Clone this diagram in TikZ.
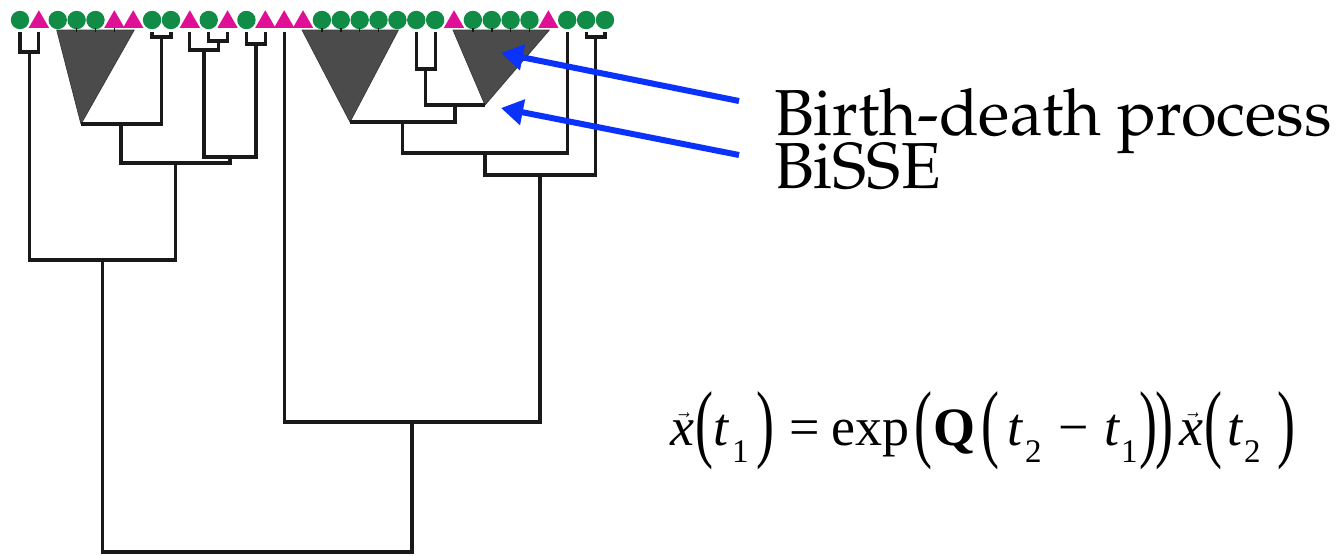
\documentclass[tikz,border=0pt]{standalone}
\usepackage[T1]{fontenc}
\usepackage{fontspec}
\usepackage{graphicx}
\usetikzlibrary{arrows.meta,shapes.geometric,calc}
\newfontfamily\eqfont{Liberation Serif}
\newcommand\palfont{\fontencoding{T1}\fontfamily{ppl}\selectfont}
\newcommand\EqP[1]{\raisebox{-6.5pt}{\scalebox{1}[1.6]{#1}}}
\newcommand\EqSub[1]{\raisebox{-17pt}{\fontsize{33}{33}\selectfont #1}}
\newcommand\EqVx{\ensuremath{\vec{\mbox{\itshape x}}}}
\definecolor{tipgreen}{RGB}{16,140,70}
\definecolor{tipmag}{RGB}{224,16,150}
\definecolor{treeline}{RGB}{25,25,25}
\definecolor{cladegray}{RGB}{75,75,75}
\definecolor{arrowblue}{RGB}{10,50,250}
\tikzset{
  tipc/.style={circle, fill=tipgreen, minimum size=18.4pt, inner sep=0pt},
  tipt/.style={regular polygon, regular polygon sides=3, fill=tipmag, minimum size=23.5pt, inner sep=0pt},
  branch/.style={draw=treeline, line width=3.2pt, line join=miter},
  tick/.style={draw=treeline, line width=1.6pt},
  clade/.style={fill=cladegray, draw=cladegray!80!black, line width=0.8pt, line join=round},
  bluearrow/.style={draw=arrowblue, line width=6pt, -{Triangle[length=22pt,width=25pt]}},
  lbl/.style={anchor=base west, inner sep=0pt, font=\palfont\fontsize{65}{65}\selectfont},
  eqn/.style={anchor=base west, inner sep=0pt, font=\eqfont\fontsize{54}{54}\selectfont}
}
\begin{document}
\begin{tikzpicture}[x=1pt,y=-1pt]
\fill[white] (0,0) rectangle (1341,555);
\useasboundingbox (0,0) rectangle (1341,555);

% tips
\foreach \i in {1,3,4,5,8,9,11,13,17,18,19,20,21,22,23,25,26,27,28,30,31,32}
  \node[tipc] (t\i) at ({20+(\i-1)*18.87},20) {};
\foreach \i in {2,6,7,10,12,14,15,16,24,29}
  \node[tipt] (t\i) at ({20+(\i-1)*18.87},22) {};
\foreach \i in {1,...,32}
  \coordinate (b\i) at ({20+(\i-1)*18.87},32);

% collapsed clades (triangles)
\coordinate (A1) at (81,124);
\coordinate (A2) at (350,122);
\coordinate (A3) at (485,105);
\path[clade] ($(b3)+(-1,-2)$) -- ($(b7)+(1,-2)$) -- (A1) -- cycle;
\path[clade] ($(b16)+(-1,-2)$) -- ($(b21)+(1,-2)$) -- (A2) -- cycle;
\path[clade] ($(b24)+(-1,-2)$) -- ($(b29)+(1,-2)$) -- (A3) -- cycle;
\foreach \i in {4,5,6,17,18,19,20,25,26,27,28}
  \draw[tick] (b\i) -- ($(b\i)+(0,-4)$);

% internal nodes, left clade
\coordinate (n12) at (29.4,52);
\coordinate (n89) at (161.5,37);
\coordinate (n1112) at (218.1,41);
\coordinate (n1012) at (204,50);
\coordinate (n1314) at (255.9,44);
\coordinate (nQ) at (230,157);
\coordinate (P1) at (121,124);
\coordinate (P2) at (175.5,163);
\coordinate (L) at (102.5,260);
% internal nodes, right clade
\coordinate (n2223) at (425.7,69);
\coordinate (P3) at (455,105);
\coordinate (P4) at (402.5,122);
\coordinate (P5) at (485,153);
\coordinate (n3132) at (595.5,37);
\coordinate (P6) at (540,175);
\coordinate (R) at (412,422);
\coordinate (root) at (257,552);

% branches
\draw[branch] (b1) |- (n12);  \draw[branch] (b2) |- (n12);
\draw[branch] (b8) |- (n89);  \draw[branch] (b9) |- (n89);
\draw[branch] (A1) |- (P1);   \draw[branch] (n89) |- (P1);
\draw[branch] (b11) |- (n1112); \draw[branch] (b12) |- (n1112);
\draw[branch] (b10) |- (n1012); \draw[branch] (n1112) |- (n1012);
\draw[branch] (b13) |- (n1314); \draw[branch] (b14) |- (n1314);
\draw[branch] (n1012) |- (nQ); \draw[branch] (n1314) |- (nQ);
\draw[branch] (P1) |- (P2);   \draw[branch] (nQ) |- (P2);
\draw[branch] (n12) |- (L);   \draw[branch] (P2) |- (L);

\draw[branch] (b22) |- (n2223); \draw[branch] (b23) |- (n2223);
\draw[branch] (n2223) |- (P3); \draw[branch] (A3) |- (P3);
\draw[branch] (A2) |- (P4);   \draw[branch] (P3) |- (P4);
\draw[branch] (P4) |- (P5);   \draw[branch] (b30) |- (P5);
\draw[branch] (b31) |- (n3132); \draw[branch] (b32) |- (n3132);
\draw[branch] (P5) |- (P6);   \draw[branch] (n3132) |- (P6);
\draw[branch] (b15) |- (R);   \draw[branch] (P6) |- (R);
\draw[branch] (L) |- (root);  \draw[branch] (R) |- (root);

% labels and arrows
\node[lbl] (bd) at (774,135) {Birth-death process};
\node[lbl] (bisse) at (774,188) {BiSSE};
\coordinate (a1s) at (739,101);
\coordinate (a1e) at (501,53);
\coordinate (a2s) at (739,155);
\coordinate (a2e) at (501,108);
\draw[bluearrow] (a1s) -- (a1e);
\draw[bluearrow] (a2s) -- (a2e);

% equation
\node[eqn] (eq) at (670,445) {%
\makebox[25pt][l]{\EqVx}%
\makebox[18pt][l]{\EqP{(}}%
\makebox[19pt][l]{\itshape t}%
\makebox[24pt][l]{\EqSub{1}}%
\makebox[33pt][l]{\EqP{)}}%
\makebox[42pt][l]{=}%
\makebox[83pt][l]{exp}%
\makebox[19pt][l]{\EqP{(}}%
\makebox[48pt][l]{\bfseries Q}%
\makebox[26pt][l]{\EqP{(}}%
\makebox[18pt][l]{\itshape t}%
\makebox[33pt][l]{\EqSub{2}}%
\makebox[46pt][l]{−}%
\makebox[17pt][l]{\itshape t}%
\makebox[18pt][l]{\EqSub{1}}%
\makebox[16pt][l]{\EqP{)}}%
\makebox[24pt][l]{\EqP{)}}%
\makebox[25pt][l]{\EqVx}%
\makebox[23pt][l]{\EqP{(}}%
\makebox[17pt][l]{\itshape t}%
\makebox[33pt][l]{\EqSub{2}}%
\EqP{)}};
\end{tikzpicture}
\end{document}
